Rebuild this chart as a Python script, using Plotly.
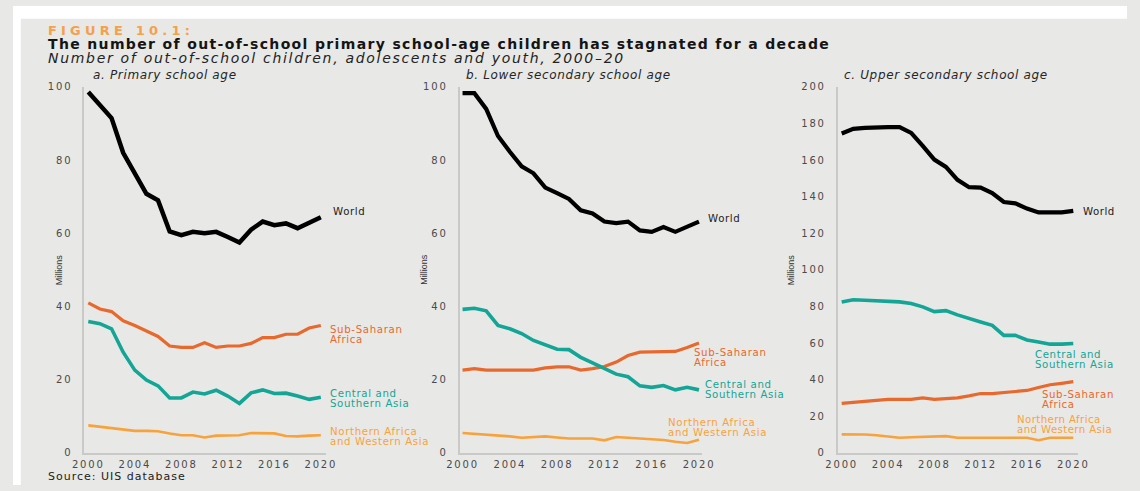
import plotly.graph_objects as go

W, H = 1140, 491

years = list(range(2000, 2021))

# a. Primary school age (millions)
primary_world = [98.6, 95.0, 91.5, 82.0, 76.5, 70.8, 69.0, 60.5, 59.5, 60.4, 60.0,
                 60.4, 59.0, 57.5, 61.0, 63.2, 62.2, 62.7, 61.4, 63.0, 64.4]
primary_ssa = [41.0, 39.3, 38.6, 36.1, 34.8, 33.2, 31.8, 29.2, 28.8, 28.8, 30.1,
               28.8, 29.2, 29.2, 29.9, 31.5, 31.5, 32.4, 32.4, 34.1, 34.8]
primary_csa = [35.9, 35.3, 33.9, 27.5, 22.6, 19.9, 18.3, 15.0, 15.0, 16.6, 16.1,
               17.1, 15.5, 13.5, 16.4, 17.2, 16.2, 16.3, 15.5, 14.6, 15.2]
primary_nawa = [7.5, 7.1, 6.7, 6.3, 6.0, 6.0, 5.9, 5.3, 4.8, 4.8, 4.2,
                4.7, 4.7, 4.8, 5.4, 5.4, 5.3, 4.6, 4.5, 4.7, 4.8]

# b. Lower secondary school age (millions)
lower_world = [98.3, 98.3, 94.0, 86.6, 82.3, 78.3, 76.4, 72.5, 71.0, 69.4, 66.3,
               65.4, 63.2, 62.8, 63.2, 60.8, 60.4, 61.7, 60.4, 61.8, 63.2]
lower_ssa = [22.6, 23.0, 22.6, 22.6, 22.6, 22.6, 22.6, 23.2, 23.5, 23.5, 22.6,
             23.0, 23.6, 24.8, 26.6, 27.5, 27.6, 27.6, 27.7, 28.8, 30.0]
lower_csa = [39.2, 39.5, 38.8, 34.8, 33.9, 32.6, 30.7, 29.5, 28.3, 28.2, 26.1,
             24.6, 23.0, 21.5, 20.8, 18.3, 17.9, 18.4, 17.2, 17.9, 17.2]
lower_nawa = [5.4, 5.2, 4.8, 4.8, 4.5, 4.1, 4.3, 4.5, 4.2, 3.9, 3.9,
              3.9, 3.4, 4.3, 4.1, 3.9, 3.7, 3.5, 3.0, 2.7, 3.6]

# c. Upper secondary school age (millions)
upper_world = [174.6, 177.1, 177.6, 178.1, 178.1, 178.1, 174.9, 167.8, 160.3, 156.3, 149.2,
               145.2, 145.0, 142.0, 137.1, 136.4, 133.5, 131.4, 131.4, 131.4, 132.3]
upper_csa = [82.5, 83.7, 83.4, 83.0, 83.0, 82.5, 81.6, 79.8, 77.2, 77.7, 75.4,
             73.2, 71.5, 69.7, 64.2, 64.2, 61.7, 60.6, 59.4, 59.4, 59.8]
upper_ssa = [27.0, 27.5, 28.3, 28.8, 29.2, 29.2, 29.2, 30.0, 29.2, 29.6, 30.0,
             31.1, 32.4, 32.4, 33.0, 33.6, 34.1, 35.7, 37.2, 38.0, 38.9]
upper_nawa = [10.1, 10.1, 10.0, 9.6, 9.1, 8.2, 8.5, 8.8, 9.1, 9.1, 8.2,
              8.4, 8.2, 8.2, 8.2, 8.2, 8.2, 6.9, 8.2, 8.2, 8.2]

panel_titles = ["a. Primary school age", "b. Lower secondary school age",
                "c. Upper secondary school age"]
x_ticks = [2000, 2004, 2008, 2012, 2016, 2020]
y_ticks_ab = [0, 20, 40, 60, 80, 100]
y_ticks_c = [0, 20, 40, 60, 80, 100, 120, 140, 160, 180, 200]

C_WORLD = "#000000"
C_SSA = "#E8692D"
C_CSA = "#13A595"
C_NAWA = "#F8A23C"
BG = "#E8E8E6"
AXIS = "#C9C9C7"
TICK = "#4A4A4A"
FONT = "DejaVu Sans"


def fx(px):
    return px / W


def fy(py):
    return 1 - py / H


def spaced(s, px):
    return f"<span style='letter-spacing:{px}px'>{s}</span>"


fig = go.Figure()

panels = [
    dict(x0=73, x1=320, xr=[1999.66, 2020.42], yr=[0, 100], yt=y_ticks_ab,
         series=[(primary_world, C_WORLD, 4.5), (primary_ssa, C_SSA, 3.2),
                 (primary_csa, C_CSA, 3.6), (primary_nawa, C_NAWA, 2.6)]),
    dict(x0=457, x1=705, xr=[1999.75, 2020.25], yr=[0, 100], yt=y_ticks_ab,
         series=[(lower_world, C_WORLD, 4.2), (lower_ssa, C_SSA, 3.2),
                 (lower_csa, C_CSA, 3.6), (lower_nawa, C_NAWA, 2.6)]),
    dict(x0=844, x1=1090, xr=[1999.66, 2020.42], yr=[0, 200], yt=y_ticks_c,
         series=[(upper_world, C_WORLD, 4.2), (upper_csa, C_CSA, 3.6),
                 (upper_ssa, C_SSA, 3.2), (upper_nawa, C_NAWA, 2.6)]),
]

y_bottom, y_top = 458, 83

for i, p in enumerate(panels, start=1):
    xa = "x" if i == 1 else f"x{i}"
    ya = "y" if i == 1 else f"y{i}"
    for vals, col, lw in p["series"]:
        fig.add_trace(go.Scatter(x=years, y=vals, mode="lines", xaxis=xa, yaxis=ya,
                                 line=dict(color=col, width=lw), showlegend=False,
                                 hoverinfo="skip"))
    key = "" if i == 1 else str(i)
    fig.update_layout(**{
        f"xaxis{key}": dict(
            domain=[fx(p["x0"]), fx(p["x1"])], range=p["xr"], anchor=ya,
            tickvals=x_ticks, ticktext=[spaced(v, 1.8) for v in x_ticks],
            showgrid=False, zeroline=False, showline=True,
            linecolor=AXIS, linewidth=1.5, ticks="", ticklabelstandoff=1,
            tickfont=dict(family=FONT, size=10, color=TICK), fixedrange=True),
        f"yaxis{key}": dict(
            domain=[fy(y_bottom), fy(y_top)], range=p["yr"], anchor=xa,
            tickvals=p["yt"], ticktext=[spaced(v, 1.8) for v in p["yt"]],
            showgrid=False, zeroline=False, showline=True,
            linecolor=AXIS, linewidth=2, ticks="", ticklabelstandoff=8,
            tickfont=dict(family=FONT, size=10, color=TICK), fixedrange=True),
    })

annotations = []


def text(px, py, s, size=11, color="#222", anchor="left", yanchor="middle",
         family=FONT, **kw):
    annotations.append(dict(x=fx(px), y=fy(py), xref="paper", yref="paper", text=s,
                            showarrow=False, xanchor=anchor, yanchor=yanchor,
                            align="left", borderpad=0,
                            font=dict(family=family, size=size, color=color), **kw))


# Header
text(35, 25, "<b>" + spaced("FIGURE 10.1:", 4.2) + "</b>", size=13, color="#F5A04A")
text(35, 39, "<b>" + spaced("The number of out-of-school primary school-age children "
                            "has stagnated for a decade", 1.35) + "</b>",
     size=14, color="#141414")
text(35, 53, "<i>" + spaced("Number of out-of-school children, adolescents and youth, "
                            "2000–20", 1.7) + "</i>",
     size=14, color="#222222")

# Panel titles
for px, t in zip([81, 463, 849], panel_titles):
    text(px, 71, "<i>" + spaced(t, 0.65) + "</i>", size=12, color="#262626")

# Axis titles
for px in [47, 421, 797]:
    text(px, 270, "Millions", size=9, color="#333333", anchor="center",
         family="Liberation Sans Narrow, Liberation Sans", textangle=-90)

# Series labels, one annotation per text line: (x, line ys, lines, colour, spacing)
labels = [
    (327, [211], ["World"], C_WORLD, 0.65),
    (324, [332, 342], ["Sub-Saharan", "Africa"], C_SSA, 0.65),
    (324, [397, 407], ["Central and", "Southern Asia"], C_CSA, 0.65),
    (324, [436, 446], ["Northern Africa", "and Western Asia"], C_NAWA, 0.65),
    (711, [218], ["World"], C_WORLD, 0.65),
    (697, [355, 365], ["Sub-Saharan", "Africa"], C_SSA, 0.65),
    (708, [388, 398], ["Central and", "Southern Asia"], C_CSA, 0.65),
    (670, [427, 437], ["Northern Africa", "and Western Asia"], C_NAWA, 0.65),
    (1095, [211], ["World"], C_WORLD, 0.5),
    (1046, [357, 367], ["Central and", "Southern Asia"], C_CSA, 0.6),
    (1053, [398, 408], ["Sub-Saharan", "Africa"], C_SSA, 0.6),
    (1027, [424, 434], ["Northern Africa", "and Western Asia"], C_NAWA, 0.4),
]
for px, pys, lines, col, sp in labels:
    for py, line in zip(pys, lines):
        text(px - 1, py, spaced(line, sp), size=10.2,
             color="#222222" if col == C_WORLD else col)

# Source line along the bottom edge, kept inside the page
text(35, 482, spaced("Source: UIS database", 1.0), size=11, color="#222222")

fig.update_layout(
    width=W, height=H, margin=dict(l=0, r=0, t=0, b=0),
    paper_bgcolor=BG, plot_bgcolor="rgba(0,0,0,0)",
    annotations=annotations,
    shapes=[
        dict(type="rect", xref="paper", yref="paper", x0=0, x1=1, y0=fy(13), y1=1,
             fillcolor="white", line=dict(width=0), layer="below"),
        dict(type="rect", xref="paper", yref="paper", x0=0, x1=fx(8), y0=0, y1=1,
             fillcolor="white", line=dict(width=0), layer="below"),
    ],
)

fig.write_html(
    "out.html",
    post_script=("document.documentElement.style.overflow='hidden';"
                 "document.body.style.overflow='hidden';"),
)
